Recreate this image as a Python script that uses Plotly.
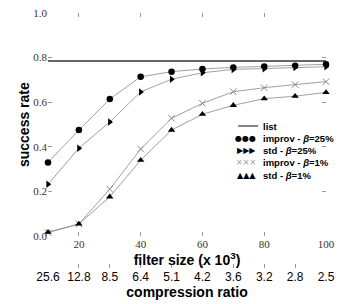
import plotly.graph_objects as go

filter_sizes = [10, 20, 30, 40, 50, 60, 70, 80, 90, 100]
compression_labels = ["25.6", "12.8", "8.5", "6.4", "5.1", "4.2", "3.6", "3.2", "2.8", "2.5"]
list_values = [0.785] * 10
improv_25 = [0.33, 0.475, 0.614, 0.714, 0.737, 0.749, 0.756, 0.760, 0.764, 0.770]
std_25 = [0.232, 0.394, 0.511, 0.646, 0.703, 0.732, 0.747, 0.750, 0.756, 0.759]
improv_1 = [0.015, 0.054, 0.21, 0.39, 0.528, 0.595, 0.647, 0.665, 0.679, 0.692]
std_1 = [0.017, 0.054, 0.176, 0.34, 0.475, 0.546, 0.586, 0.616, 0.627, 0.644]
y_ticks = [0.0, 0.2, 0.4, 0.6, 0.8, 1.0]
x_ticks = [20, 40, 60, 80, 100]

legend_labels = ["list", "improv - <i>β</i>=25%", "std - <i>β</i>=25%",
                 "improv - <i>β</i>=1%", "std - <i>β</i>=1%"]
legend_glyphs = ["", "●●●", "▶▶▶", "×××", "▲▲▲"]
legend_glyph_colors = ["#000", "#000", "#000", "#999", "#000"]

SERIF = "Liberation Serif"
SANS = "Liberation Sans"

fig = go.Figure()
fig.add_trace(go.Scatter(x=filter_sizes, y=list_values, mode="lines", name="list",
                         line=dict(color="#333", width=1.5), cliponaxis=False))
series = [
    (improv_25, "improv - β=25%", "circle", "#000", 6.5, 0),
    (std_25, "std - β=25%", "triangle-right", "#000", 6.5, 0),
    (improv_1, "improv - β=1%", "x-thin", "#888", 6.5, 1),
    (std_1, "std - β=1%", "triangle-up", "#000", 6.5, 0),
]
for vals, name, sym, col, sz, lw in series:
    fig.add_trace(go.Scatter(
        x=filter_sizes, y=vals, mode="lines+markers", name=name,
        line=dict(color="#888", width=0.8),
        marker=dict(symbol=sym, color=col, size=sz, line=dict(color=col, width=lw)),
        cliponaxis=False))
# carrier for the secondary axis
fig.add_trace(go.Scatter(x=filter_sizes, y=list_values, xaxis="x2", yaxis="y",
                         mode="lines", opacity=0, hoverinfo="skip", showlegend=False))

W, H = 354, 304
L, R, T, B = 47.5, 28, 13, 36
pw, ph = W - L - R, H - T - B
def px(x):
    return (x - L) / pw
def py(y):
    return (H - B - y) / ph

plot_bottom = 236
ydom0 = (H - B - plot_bottom) / ph

annotations = []
row_y = [126, 138, 150.5, 162.5, 175]
for lab, gl, gc, yy in zip(legend_labels, legend_glyphs, legend_glyph_colors, row_y):
    annotations.append(dict(xref="paper", yref="paper", x=px(261), y=py(yy),
                            xanchor="left", yanchor="middle", showarrow=False,
                            text=lab, font=dict(family=SANS, size=9.5, color="#000", weight="bold")))
    if gl:
        annotations.append(dict(xref="paper", yref="paper", x=px(258), y=py(yy),
                                xanchor="right", yanchor="middle", showarrow=False,
                                text=gl, font=dict(family="DejaVu Sans", size=8, color=gc)))
annotations.append(dict(xref="paper", yref="paper", x=px(23), y=py(124.5),
                        xanchor="center", yanchor="middle", showarrow=False, textangle=-90,
                        text="success rate",
                        font=dict(family=SANS, size=14, color="#000", weight="bold")))

shapes = [dict(type="line", xref="paper", yref="paper", x0=px(238), x1=px(258),
               y0=py(row_y[0]), y1=py(row_y[0]), line=dict(color="#333", width=1.2))]

fig.update_layout(
    width=W, height=H, margin=dict(l=L, r=R, t=T, b=B, autoexpand=False),
    paper_bgcolor="white", plot_bgcolor="white", showlegend=False,
    annotations=annotations, shapes=shapes,
    xaxis=dict(range=[10, 100], tickvals=x_ticks, ticks="inside", ticklen=4,
               tickcolor="#999", tickwidth=0.8, mirror="ticks", showline=False,
               showgrid=False, zeroline=False, anchor="y",
               tickfont=dict(family=SERIF, size=11, color="#333"),
               title=dict(text="filter size (x 10<sup>3</sup>)", standoff=2,
                          font=dict(family=SANS, size=14, color="#000", weight="bold"))),
    xaxis2=dict(range=[10, 100], overlaying="x", anchor="free", position=0, side="bottom",
                tickvals=filter_sizes, ticktext=compression_labels, ticks="inside",
                ticklen=4, tickcolor="#999", tickwidth=0.8, showline=False,
                showgrid=False, zeroline=False,
                tickfont=dict(family=SANS, size=12, color="#000"),
                title=dict(text="compression ratio", standoff=2,
                           font=dict(family=SANS, size=14, color="#000", weight="bold"))),
    yaxis=dict(range=[0, 1], domain=[ydom0, 1], tickvals=y_ticks,
               tickformat=".1f", ticks="inside", ticklen=4, tickcolor="#999",
               tickwidth=0.8, mirror="ticks", showline=False, showgrid=False,
               zeroline=False,
               tickfont=dict(family=SERIF, size=11, color="#333")),
)

fig.write_html("out.html", config={"displayModeBar": False},
               post_script="document.body.style.margin='0px';")
